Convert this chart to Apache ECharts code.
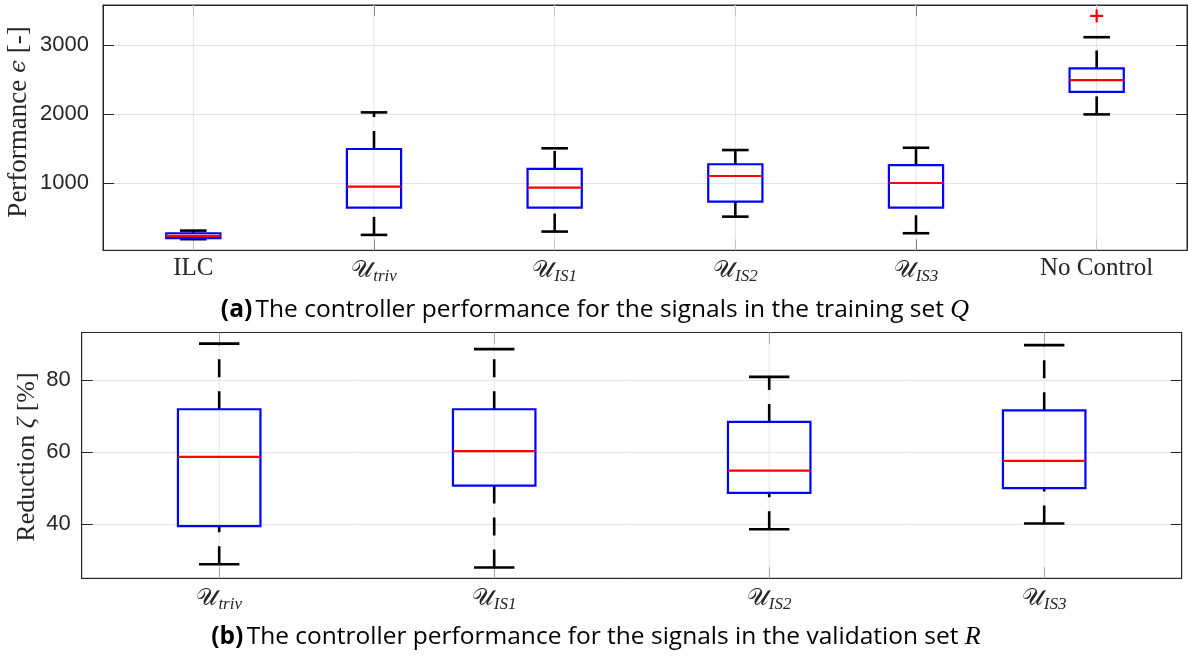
<!DOCTYPE html>
<html>
<head>
<meta charset="utf-8">
<script src="https://cdn.jsdelivr.net/npm/echarts@6/dist/echarts.min.js"></script>
<style>
html, body { margin: 0; padding: 0; background: #fff; }
#chart { width: 1188px; height: 657px; }
</style>
</head>
<body>
<div id="chart"></div>
<script>
// Panel (a): controller performance on the training set, [min, Q1, median, Q3, max]
const categoriesA = ['ILC', 'triv', 'IS1', 'IS2', 'IS3', 'No Control'];
const statsA = [
  [191, 205, 238, 277, 315],
  [253, 647, 951, 1496, 2026],
  [301, 647, 937, 1207, 1506],
  [517, 734, 1105, 1275, 1481],
  [277, 647, 1004, 1264, 1514],
  [1997, 2324, 2493, 2662, 3114]
];
const outliersA = [[5, 3422]];
const ticksA = [1000, 2000, 3000];

// Panel (b): reduction on the validation set, [min, Q1, median, Q3, max]
const categoriesB = ['triv', 'IS1', 'IS2', 'IS3'];
const statsB = [
  [28.9, 39.5, 58.7, 71.9, 90.1],
  [28.0, 50.7, 60.3, 71.9, 88.6],
  [38.6, 48.7, 54.9, 68.4, 80.9],
  [40.2, 50.0, 57.6, 71.6, 89.7]
];
const ticksB = [40, 60, 80];

const AXIS = '#262626';
const GRID = '#e4e4e4';

const chart = echarts.init(document.getElementById('chart'), null, { renderer: 'canvas' });

function catLabel(name) {
  if (name === 'ILC' || name === 'No Control') return '{n|' + name + '}';
  return '{u|\u{1D4B0}}{s|' + name + '}';
}

const labelRich = {
  n: { fontFamily: 'Liberation Serif', fontSize: 25, color: AXIS },
  u: { fontFamily: 'DejaVu Serif', fontSize: 24, color: AXIS },
  s: { fontFamily: 'Liberation Serif', fontStyle: 'italic', fontSize: 17, color: AXIS, padding: [12, 0, 0, 0] }
};

function boxItem(params, api) {
  const i = api.value(0);
  const v = [1, 2, 3, 4, 5].map(k => api.value(k));
  const band = api.size([1, 0])[0];
  const bw = band * 0.3;
  const cw = band * 0.147;
  const p = v.map(val => api.coord([i, val]));
  const x = p[0][0];
  const cs = params.coordSys;
  const whisker = { stroke: '#000', lineWidth: 2.6, lineDash: [18, 14] };
  const cap = { stroke: '#000', lineWidth: 2.6 };
  return {
    type: 'group',
    children: [
      { type: 'line', shape: { x1: x, y1: cs.y, x2: x, y2: cs.y + cs.height }, style: { stroke: GRID, lineWidth: 1 } },
      { type: 'line', shape: { x1: x, y1: p[0][1], x2: x, y2: p[1][1] }, style: whisker },
      { type: 'line', shape: { x1: x, y1: p[3][1], x2: x, y2: p[4][1] }, style: whisker },
      { type: 'line', shape: { x1: x - cw / 2, y1: p[0][1], x2: x + cw / 2, y2: p[0][1] }, style: cap },
      { type: 'line', shape: { x1: x - cw / 2, y1: p[4][1], x2: x + cw / 2, y2: p[4][1] }, style: cap },
      { type: 'rect', shape: { x: x - bw / 2, y: p[3][1], width: bw, height: p[1][1] - p[3][1] },
        style: { fill: 'none', stroke: '#0000ff', lineWidth: 2.2 } },
      { type: 'line', shape: { x1: x - bw / 2, y1: p[2][1], x2: x + bw / 2, y2: p[2][1] },
        style: { stroke: '#ff0000', lineWidth: 2.2 } }
    ]
  };
}

function outlierItem(params, api) {
  const c = api.coord([api.value(0), api.value(1)]);
  const h = 6.5;
  const st = { stroke: '#ff0000', lineWidth: 2.2 };
  return {
    type: 'group',
    children: [
      { type: 'line', shape: { x1: c[0] - h, y1: c[1], x2: c[0] + h, y2: c[1] }, style: st },
      { type: 'line', shape: { x1: c[0], y1: c[1] - h, x2: c[0], y2: c[1] + h }, style: st }
    ]
  };
}

function valueAxis(gridIndex, min, max, ticks, position, showLabels, margin) {
  return {
    type: 'value', gridIndex, min, max, position,
    axisLine: { show: true, onZero: false, lineStyle: { color: AXIS, width: 1 } },
    axisTick: { show: true, inside: true, length: 11, customValues: ticks, lineStyle: { color: AXIS, width: 1 } },
    axisLabel: {
      show: showLabels, customValues: ticks, formatter: v => String(v),
      fontFamily: 'Liberation Sans', fontSize: 22, color: AXIS, margin
    },
    splitLine: { show: showLabels, lineStyle: { color: GRID, width: 1 } }
  };
}

function catAxis(gridIndex, cats, position, showLabels) {
  return {
    type: 'category', gridIndex, data: cats, position, boundaryGap: true,
    axisLine: { show: true, onZero: false, lineStyle: { color: AXIS, width: 1 } },
    axisTick: { show: true, inside: true, length: 11, alignWithLabel: true, lineStyle: { color: AXIS, width: 1 } },
    axisLabel: { show: showLabels, margin: 6, formatter: catLabel, rich: labelRich },
    splitLine: { show: false }
  };
}

const captionRich = {
  b: { fontFamily: 'Open Sans', fontWeight: 'bold', fontSize: 24.5, fill: '#000' },
  t: { fontFamily: 'Open Sans', fontSize: 24.5, fill: '#000' },
  q: { fontFamily: 'Liberation Serif', fontStyle: 'italic', fontSize: 26, fill: '#000' }
};

const option = {
  animation: false,
  backgroundColor: '#fff',
  grid: [
    { left: 103, top: 5, width: 1084, height: 245.3, show: true, borderColor: AXIS, borderWidth: 1, containLabel: false },
    { left: 81.7, top: 332.5, width: 1100, height: 245.8, show: true, borderColor: AXIS, borderWidth: 1, containLabel: false }
  ],
  xAxis: [
    catAxis(0, categoriesA, 'bottom', true),
    catAxis(0, categoriesA, 'top', false),
    catAxis(1, categoriesB, 'bottom', true),
    catAxis(1, categoriesB, 'top', false)
  ],
  yAxis: [
    valueAxis(0, 30, 3580, ticksA, 'left', true, 14),
    valueAxis(0, 30, 3580, ticksA, 'right', false, 14),
    valueAxis(1, 25, 93.2, ticksB, 'left', true, 11),
    valueAxis(1, 25, 93.2, ticksB, 'right', false, 11)
  ],
  series: [
    {
      type: 'custom', xAxisIndex: 0, yAxisIndex: 0,
      data: statsA.map((s, i) => [i].concat(s)),
      encode: { x: 0, y: [1, 2, 3, 4, 5] },
      renderItem: boxItem
    },
    {
      type: 'custom', xAxisIndex: 0, yAxisIndex: 0,
      data: outliersA,
      encode: { x: 0, y: 1 },
      renderItem: outlierItem
    },
    {
      type: 'custom', xAxisIndex: 2, yAxisIndex: 2,
      data: statsB.map((s, i) => [i].concat(s)),
      encode: { x: 0, y: [1, 2, 3, 4, 5] },
      renderItem: boxItem
    }
  ],
  graphic: [
    {
      type: 'text', x: 19, y: 122, rotation: Math.PI / 2,
      style: {
        text: '{t|Performance }{g|\u03F5}{t| [-]}',
        align: 'center', verticalAlign: 'middle',
        rich: {
          t: { fontFamily: 'Liberation Serif', fontSize: 27, fill: AXIS },
          g: { fontFamily: 'DejaVu Serif', fontStyle: 'italic', fontSize: 23, fill: AXIS }
        }
      }
    },
    {
      type: 'text', x: 27, y: 457, rotation: Math.PI / 2,
      style: {
        text: '{t|Reduction }{g|\u03B6}{t| [%]}',
        align: 'center', verticalAlign: 'middle',
        rich: {
          t: { fontFamily: 'Liberation Serif', fontSize: 26, fill: AXIS },
          g: { fontFamily: 'Liberation Serif', fontStyle: 'italic', fontSize: 26, fill: AXIS }
        }
      }
    },
    {
      type: 'text', x: 595, y: 310,
      style: {
        text: '{b|(a)} {t|The controller performance for the signals in the training set }{q|Q}',
        align: 'center', verticalAlign: 'middle',
        rich: captionRich
      }
    },
    {
      type: 'text', x: 596, y: 637,
      style: {
        text: '{b|(b)} {t|The controller performance for the signals in the validation set }{q|R}',
        align: 'center', verticalAlign: 'middle',
        rich: captionRich
      }
    }
  ]
};

chart.setOption(option);
</script>
</body>
</html>
